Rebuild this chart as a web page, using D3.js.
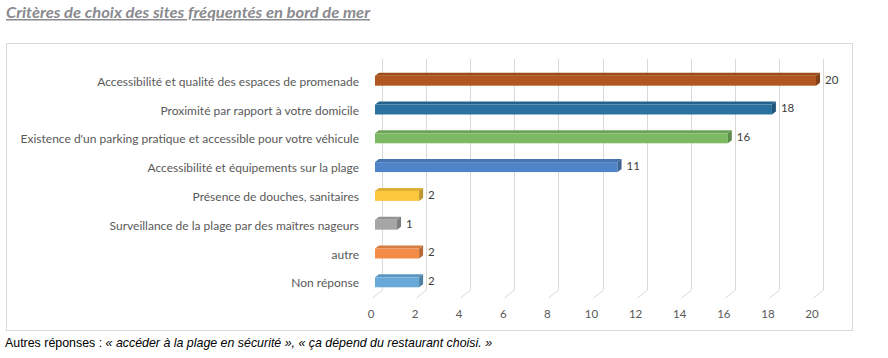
<!DOCTYPE html>
<html>
<head>
<meta charset="utf-8">
<script src="https://cdn.jsdelivr.net/npm/d3@7"></script>
<style>
  body { margin: 0; background: #fff; }
  svg { display: block; }
</style>
</head>
<body>
<div id="chart"></div>
<script>
const width = 888;
const height = 358;

const categories = [
  "Accessibilité et qualité des espaces de promenade",
  "Proximité par rapport à votre domicile",
  "Existence d'un parking pratique et accessible pour votre véhicule",
  "Accessibilité et équipements sur la plage",
  "Présence de douches, sanitaires",
  "Surveillance de la plage par des maîtres nageurs",
  "autre",
  "Non réponse"
];
const values = [20, 18, 16, 11, 2, 1, 2, 2];
const colors = ["#b0561f", "#2a70a0", "#7cb962", "#4f84c8", "#fcc73c", "#a6a6a6", "#f48c48", "#68a9da"];
const ticks = [0, 2, 4, 6, 8, 10, 12, 14, 16, 18, 20];

const titleText = "Critères de choix des sites fréquentés en bord de mer";
const noteLead = "Autres réponses : ";
const noteParts = ["« ", "accéder à la plage en sécurité", " », « ", "ça dépend du restaurant choisi.", " »"];

const svg = d3.select('#chart')
  .append('svg')
  .attr('width', width)
  .attr('height', height);

// title
svg.append('text')
  .attr('x', 6)
  .attr('y', 18)
  .attr('font-family', 'Lato, sans-serif')
  .attr('font-style', 'italic')
  .attr('font-weight', 'bold')
  .attr('font-size', 15)
  .attr('fill', '#8a8a8f')
  .attr('text-decoration', 'underline')
  .attr('textLength', 364)
  .attr('lengthAdjust', 'spacingAndGlyphs')
  .text(titleText);

// frame
svg.append('rect')
  .attr('x', 6.5)
  .attr('y', 43.5)
  .attr('width', 846)
  .attr('height', 287)
  .attr('fill', '#fff')
  .attr('stroke', '#d9d9d9');

const x = d3.scaleLinear().domain([0, 20]).range([375, 816]);
const y = d3.scaleBand().domain(categories).range([64.8, 295.2])
  .paddingInner(0.55)
  .paddingOuter(0.275);

const depthX = 10, depthY = 8;   // floor depth of the gridlines
const barDx = 4, barDy = 3;      // depth of the bars

// gridlines: back vertical + floor diagonal
const grid = svg.append('g')
  .attr('fill', 'none')
  .attr('stroke', '#d9d9d9')
  .attr('stroke-width', 1);

grid.selectAll('path')
  .data(ticks)
  .join('path')
  .attr('d', d => {
    const bx = Math.round(x(d) + 7) + 0.5;
    return `M${bx},59 L${bx},290 L${bx - depthX},${290 + depthY}`;
  });

// tick labels
svg.append('g')
  .attr('font-family', 'Lato, sans-serif')
  .attr('font-size', 11.5)
  .attr('fill', '#595959')
  .attr('text-anchor', 'middle')
  .selectAll('text')
  .data(ticks)
  .join('text')
  .attr('x', d => x(d) - 4)
  .attr('y', 318)
  .text(d => d);

// category labels
svg.append('g')
  .attr('font-family', 'Lato, sans-serif')
  .attr('font-size', 12)
  .attr('fill', '#595959')
  .attr('text-anchor', 'end')
  .selectAll('text')
  .data(categories)
  .join('text')
  .attr('x', 359)
  .attr('y', d => y(d) + y.bandwidth() / 2 + 3.5)
  .attr('dominant-baseline', 'middle')
  .text(d => d);

// 3d bars
const rows = categories.map((c, i) => ({name: c, value: values[i], color: colors[i]}));

const bar = svg.append('g')
  .selectAll('g')
  .data(rows)
  .join('g');

bar.append('path')
  .attr('fill', d => d3.color(d.color).darker(0.35))
  .attr('d', d => {
    const x0 = x(0), x1 = x(d.value), y0 = y(d.name);
    return `M${x0},${y0 + barDy} L${x0 + barDx},${y0} L${x1 + barDx},${y0} L${x1},${y0 + barDy}Z`;
  });

bar.append('rect')
  .attr('x', x(0))
  .attr('y', d => y(d.name) + barDy)
  .attr('width', d => x(d.value) - x(0))
  .attr('height', y.bandwidth() - barDy)
  .attr('fill', d => d.color);

bar.append('path')
  .attr('fill', d => d3.color(d.color).darker(0.8))
  .attr('d', d => {
    const x1 = x(d.value), y0 = y(d.name), h = y.bandwidth();
    return `M${x1},${y0 + barDy} L${x1 + barDx},${y0} L${x1 + barDx},${y0 + h - barDy} L${x1},${y0 + h}Z`;
  });

// value labels
svg.append('g')
  .attr('font-family', 'Lato, sans-serif')
  .attr('font-size', 11.5)
  .attr('fill', '#404040')
  .selectAll('text')
  .data(rows)
  .join('text')
  .attr('x', d => x(d.value) + 9)
  .attr('y', d => y(d.name) + y.bandwidth() / 2 + 1.5)
  .attr('dominant-baseline', 'middle')
  .text(d => d.value);

// note under the chart
const note = svg.append('text')
  .attr('x', 5)
  .attr('y', 347)
  .attr('font-family', '"Liberation Sans Narrow", "Liberation Sans", sans-serif')
  .attr('font-size', 12.4)
  .attr('fill', '#000');

note.append('tspan').text(noteLead);
note.selectAll('tspan.part')
  .data(noteParts)
  .join('tspan')
  .attr('class', 'part')
  .attr('font-style', 'italic')
  .text(d => d);
</script>
</body>
</html>
